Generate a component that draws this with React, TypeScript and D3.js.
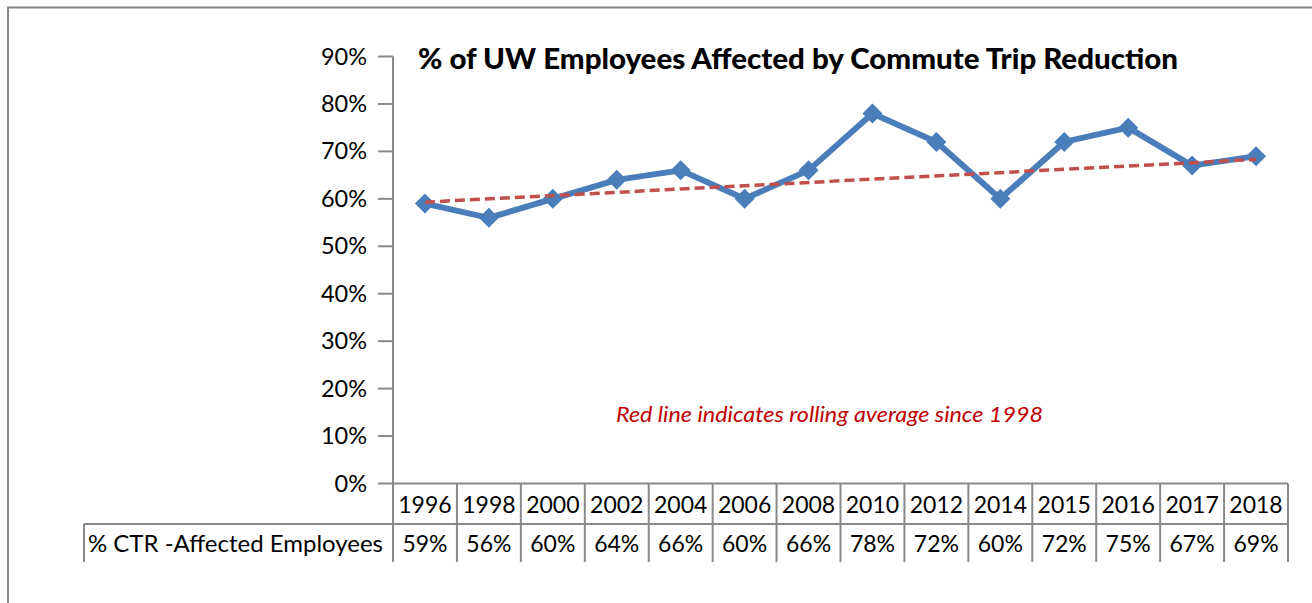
import React from "react";
import * as d3 from "d3";

const years = ["1996","1998","2000","2002","2004","2006","2008","2010","2012","2014","2015","2016","2017","2018"];
const values = [0.59,0.56,0.60,0.64,0.66,0.60,0.66,0.78,0.72,0.60,0.72,0.75,0.67,0.69];
const trendStart = 0.593;
const trendEnd = 0.683;
const yTicks = [0,0.1,0.2,0.3,0.4,0.5,0.6,0.7,0.8,0.9];
const title = "% of UW Employees Affected by Commute Trip Reduction";
const seriesName = "% CTR -Affected Employees";
const note = "Red line indicates rolling average since 1998";

const W = 1312, H = 603;
const left = 393, right = 1288, top = 56.5, bottom = 483.5;
const row1 = 524, row2 = 562, labelLeft = 84;
const gridColor = "#898989";
const font = "Lato, 'Open Sans', sans-serif";

export default function App() {
  const x = d3.scaleBand<string>().domain(years).range([left, right]).paddingInner(0).paddingOuter(0);
  const y = d3.scaleLinear().domain([0, 0.9]).range([bottom, top]);
  const cx = (yr: string) => (x(yr) as number) + x.bandwidth() / 2;
  const fmt = d3.format(".0%");
  const line = d3.line<number>().x((_, i) => cx(years[i])).y(d => y(d));
  const diamond = d3.symbol().type(d3.symbolSquare).size(200)();
  const trend = d3.line<[string, number]>().x(d => cx(d[0])).y(d => y(d[1]));
  const bounds = years.map(yr => x(yr) as number).concat([right]);

  return (
    <svg width={W} height={H} style={{ position: "absolute", left: 0, top: 0, background: "#fff" }}>
      <rect x={8} y={7.5} width={W + 20} height={H + 20} fill="#fff" stroke="#878787" strokeWidth={2} />
      {/* y axis */}
      <line x1={left} x2={left} y1={top} y2={row2} stroke={gridColor} strokeWidth={2} />
      {yTicks.map(t => (
        <g key={t}>
          <line x1={378} x2={left} y1={y(t)} y2={y(t)} stroke={gridColor} strokeWidth={2} />
          <text x={367} y={y(t) + 8} textAnchor="end" fontFamily={font} fontSize={23.5} fill="#000">{fmt(t)}</text>
        </g>
      ))}
      {/* table */}
      <line x1={left} x2={right} y1={bottom} y2={bottom} stroke={gridColor} strokeWidth={2} />
      <line x1={labelLeft} x2={right} y1={row1} y2={row1} stroke={gridColor} strokeWidth={2} />
      <line x1={labelLeft} x2={labelLeft} y1={row1} y2={row2} stroke={gridColor} strokeWidth={2} />
      {bounds.map((b, i) => (
        <line key={i} x1={b} x2={b} y1={bottom} y2={row2} stroke={gridColor} strokeWidth={2} />
      ))}
      {years.map((yr, i) => (
        <g key={yr}>
          <text x={cx(yr)} y={512.5} textAnchor="middle" fontFamily={font} fontSize={23} fill="#000">{yr}</text>
          <text x={cx(yr)} y={551.5} textAnchor="middle" fontFamily={font} fontSize={23} fill="#000">{fmt(values[i])}</text>
        </g>
      ))}
      <text x={88} y={551.5} fontFamily={font} fontSize={23} fill="#000" textLength={295} lengthAdjust="spacingAndGlyphs">{seriesName}</text>
      {/* series */}
      <path d={line(values) || ""} fill="none" stroke="#4a7ebb" strokeWidth={6} strokeLinejoin="round" />
      {values.map((v, i) => (
        <path key={i} d={diamond || ""} transform={`translate(${cx(years[i])},${y(v)}) rotate(45)`} fill="#4a7ebb" />
      ))}
      <path d={trend([[years[0], trendStart], [years[years.length - 1], trendEnd]]) || ""} fill="none" stroke="#c0504d" strokeWidth={3.5} strokeDasharray="10,5" />
      {/* title and note */}
      <text x={418} y={69} fontFamily={font} fontWeight={900} fontSize={28} fill="#000" textLength={760} lengthAdjust="spacingAndGlyphs">{title}</text>
      <text x={616} y={422} fontFamily={font} fontStyle="italic" fontSize={22} fill="#c00000" textLength={427} lengthAdjust="spacingAndGlyphs">{note}</text>
    </svg>
  );
}
